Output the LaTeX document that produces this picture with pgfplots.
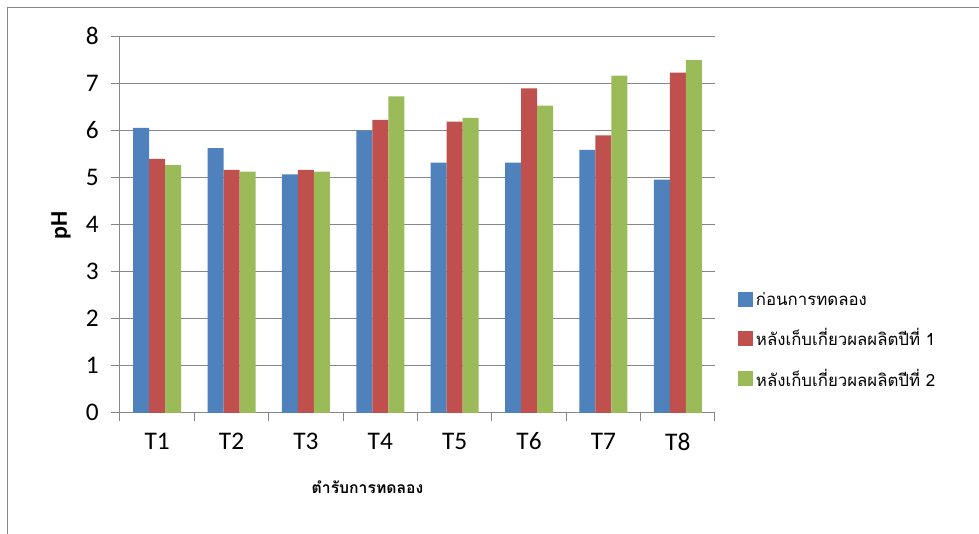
\documentclass[border=0pt]{standalone}
\usepackage{fontspec}
\setmainfont{Carlito}
\newfontfamily\thaifont[Script=Thai]{Loma}
\usepackage{pgfplots}
\usepackage{pgfplotstable}
\pgfplotsset{compat=1.18}

\definecolor{gridgray}{RGB}{134,134,134}
\definecolor{sblue}{RGB}{79,129,189}
\definecolor{sred}{RGB}{192,80,77}
\definecolor{sgreen}{RGB}{155,187,89}

\pgfplotstableread{
x  before  year1  year2
1  6.05    5.39   5.26
2  5.62    5.16   5.12
3  5.06    5.16   5.12
4  5.99    6.22   6.72
5  5.31    6.18   6.26
6  5.31    6.89   6.52
7  5.58    5.89   7.16
8  4.95    7.22   7.49
}\phdata

\begin{document}
\begin{tikzpicture}
% page = 979 x 533 px, 1 px = 0.75 pt, axis origin at px (120, 412.75)
\useasboundingbox (-90pt,-90.19pt) rectangle (644.25pt,309.56pt);
\draw[gridgray, line width=0.75pt] (-84pt,-120pt) -- (-84pt,304.3pt) -- (700pt,304.3pt);
\begin{axis}[
  at={(0pt,0pt)}, anchor=origin,
  scale only axis,
  width=446.25pt, height=282.56pt,
  ybar=0pt, bar width=12pt,
  xmin=0.5, xmax=8.5,
  ymin=0, ymax=8,
  xtick={0.5,1.5,...,8.5},
  xticklabels={T1,T2,T3,T4,T5,T6,T7,T8},
  x tick label as interval,
  ytick={0,1,...,8},
  axis lines*=left,
  axis line style={draw=gridgray, line width=0.75pt, -},
  tick style={draw=gridgray, line width=0.75pt},
  tick align=outside,
  major tick length=6.5pt,
  ymajorgrids,
  grid style={draw=gridgray, line width=0.75pt},
  tick label style={font=\fontsize{19}{22}\selectfont},
  /pgf/number format/assume math mode=true,
  xticklabel style={yshift=-5pt},
  yticklabel style={xshift=-6pt},
  xlabel={\thaifont\bfseries ตำรับการทดลอง},
  xlabel style={at={(axis description cs:0.416,-0.197)}, anchor=center, font=\fontsize{11.8}{14}\selectfont},
  ylabel={\bfseries pH},
  ylabel style={at={(axis description cs:-0.099,0.498)}, anchor=center, rotate=0, font=\fontsize{18}{21}\selectfont},
  legend style={draw=none, fill=none,
    at={(axis description cs:1.032,0.335)}, anchor=north west,
    font=\thaifont\fontsize{12.6}{15}\selectfont,
    row sep=12pt,
    nodes={inner sep=2pt}},
  legend cell align=left,
]
\addplot[fill=sblue, draw=none,
  legend image code/.code={\fill[sblue] (0pt,-5.6pt) rectangle (11.25pt,5.6pt);}]
  table[x=x, y=before] {\phdata};
\addplot[fill=sred, draw=none,
  legend image code/.code={\fill[sred] (0pt,-5.6pt) rectangle (11.25pt,5.6pt);}]
  table[x=x, y=year1] {\phdata};
\addplot[fill=sgreen, draw=none,
  legend image code/.code={\fill[sgreen] (0pt,-5.6pt) rectangle (11.25pt,5.6pt);}]
  table[x=x, y=year2] {\phdata};
\legend{ก่อนการทดลอง, หลังเก็บเกี่ยวผลผลิตปีที่ 1, หลังเก็บเกี่ยวผลผลิตปีที่ 2}
\end{axis}
\end{tikzpicture}
\end{document}
